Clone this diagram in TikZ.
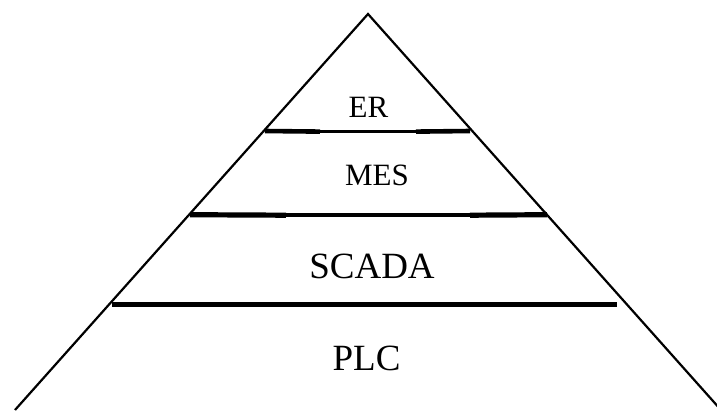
\documentclass[tikz,border=0pt]{standalone}
\usepackage{fontspec}
\setmainfont{Liberation Serif}
\begin{document}
\begin{tikzpicture}[x=1pt,y=-1pt,
  edge/.style={line width=2.2pt},
  tierline/.style={line width=4.6pt},
  tierthin/.style={line width=3.6pt},
  small/.style={anchor=base,inner sep=0pt,font=\fontsize{31}{31}\selectfont},
  large/.style={anchor=base,inner sep=0pt,font=\fontsize{37}{37}\selectfont}]
\useasboundingbox (0,0) rectangle (717,410);
\fill[white] (0,0) rectangle (717,410);
% pyramid outline
\coordinate (apex) at (368,14);
\coordinate (bl) at (15,410);
\coordinate (br) at (721,410);
\draw[edge,line join=miter] (bl) -- (apex) -- (br);
% tier separators (edge to edge)
\coordinate (erL) at (265,131);   \coordinate (erR) at (470,131);
\coordinate (erLm) at (320,131.6); \coordinate (erRm) at (416,131.6);
\coordinate (mesL) at (190,214.7); \coordinate (mesR) at (547,214.7);
\coordinate (mesLm) at (286,215.2); \coordinate (mesRm) at (470,215.2);
\coordinate (scL) at (112,304.7);  \coordinate (scR) at (617,304.7);
\draw[tierline] (erL) -- (erLm);
\draw[tierthin] (erLm) -- (erRm);
\draw[tierline] (erRm) -- (erR);
\draw[line width=5.2pt] (mesL) -- (mesLm);
\draw[line width=4.2pt] (mesLm) -- (mesRm);
\draw[line width=5.2pt] (mesRm) -- (mesR);
\draw[line width=5pt] (scL) -- (scR);
% tier labels
\node[small] (er) at (368.5,117) {ER};
\node[small] (mes) at (377,185) {MES};
\node[large] (scada) at (372,278) {SCADA};
\node[large] (plc) at (366.5,370) {PLC};
\end{tikzpicture}
\end{document}
